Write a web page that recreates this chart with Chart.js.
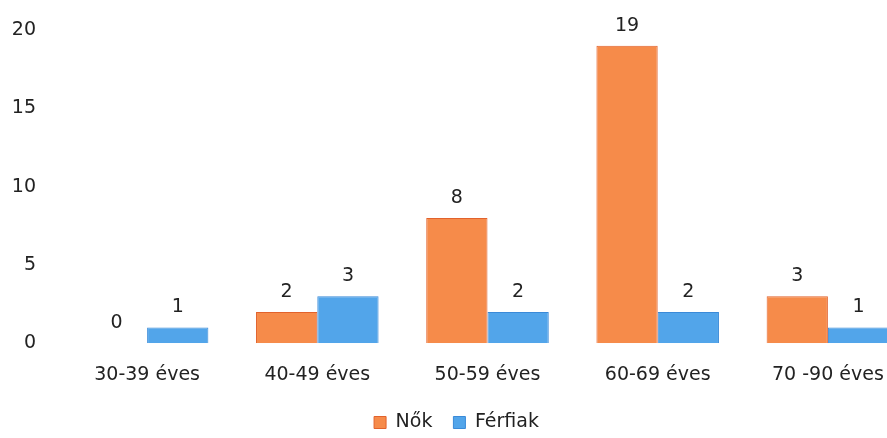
<!DOCTYPE html>
<html>
<head>
<meta charset="utf-8">
<script src="https://cdn.jsdelivr.net/npm/chart.js@4"></script>
<style>
  html, body { margin: 0; padding: 0; background: #fff; overflow: hidden; }
  #wrap { width: 913px; height: 438px; }
</style>
</head>
<body>
<div id="wrap"><canvas id="chart"></canvas></div>
<script>
// Adatok
const korcsoportok = ['30-39 éves', '40-49 éves', '50-59 éves', '60-69 éves', '70 -90 éves'];
const nok = [0, 2, 8, 19, 3];
const ferfiak = [1, 3, 2, 2, 1];
const yTickek = [0, 5, 10, 15, 20];

const betu = { family: 'DejaVu Sans', size: 19 };

// Értékek kiírása az oszlopok fölé
const ertekCimkek = {
    id: 'ertekCimkek',
    afterDatasetsDraw(chart) {
        const ctx = chart.ctx;
        ctx.save();
        ctx.font = '19px "DejaVu Sans"';
        ctx.fillStyle = '#222';
        ctx.textAlign = 'center';
        ctx.textBaseline = 'middle';
        chart.data.datasets.forEach((ds, i) => {
            chart.getDatasetMeta(i).data.forEach((bar, j) => {
                ctx.fillText(String(ds.data[j]), bar.x, bar.y - 20);
            });
        });
        ctx.restore();
    }
};

new Chart(document.getElementById('chart'), {
    type: 'bar',
    data: {
        labels: korcsoportok,
        datasets: [{
            label: 'Nők',
            data: nok,
            backgroundColor: '#F68B4A',
            borderColor: '#E2622C',
            borderWidth: 1
        }, {
            label: 'Férfiak',
            data: ferfiak,
            backgroundColor: '#52A5EA',
            borderColor: '#3A8AD8',
            borderWidth: 1
        }]
    },
    options: {
        responsive: true,
        maintainAspectRatio: false,
        animation: false,
        layout: { padding: { top: 30, bottom: -4, right: 0, left: 0 } },
        datasets: {
            bar: { categoryPercentage: 0.72, barPercentage: 1 }
        },
        plugins: {
            legend: {
                position: 'bottom',
                labels: {
                    boxWidth: 12,
                    boxHeight: 12,
                    padding: 21,
                    color: '#222',
                    font: betu
                }
            },
            tooltip: { enabled: false }
        },
        scales: {
            x: {
                afterFit(scale) { scale.height -= 14; },
                grid: { display: false, drawTicks: false },
                border: { display: false },
                ticks: {
                    color: '#222',
                    padding: 20,
                    font: betu
                }
            },
            y: {
                min: 0,
                max: 20,
                afterFit(scale) {
                    scale.width = 62;
                    scale.paddingTop = 0;
                    scale.paddingBottom = 0;
                },
                afterBuildTicks(scale) { scale.ticks = yTickek.map(v => ({ value: v })); },
                grid: { display: false, drawTicks: false },
                border: { display: false },
                ticks: {
                    color: '#222',
                    padding: 26,
                    font: betu
                }
            }
        }
    },
    plugins: [ertekCimkek]
});
</script>
</body>
</html>
